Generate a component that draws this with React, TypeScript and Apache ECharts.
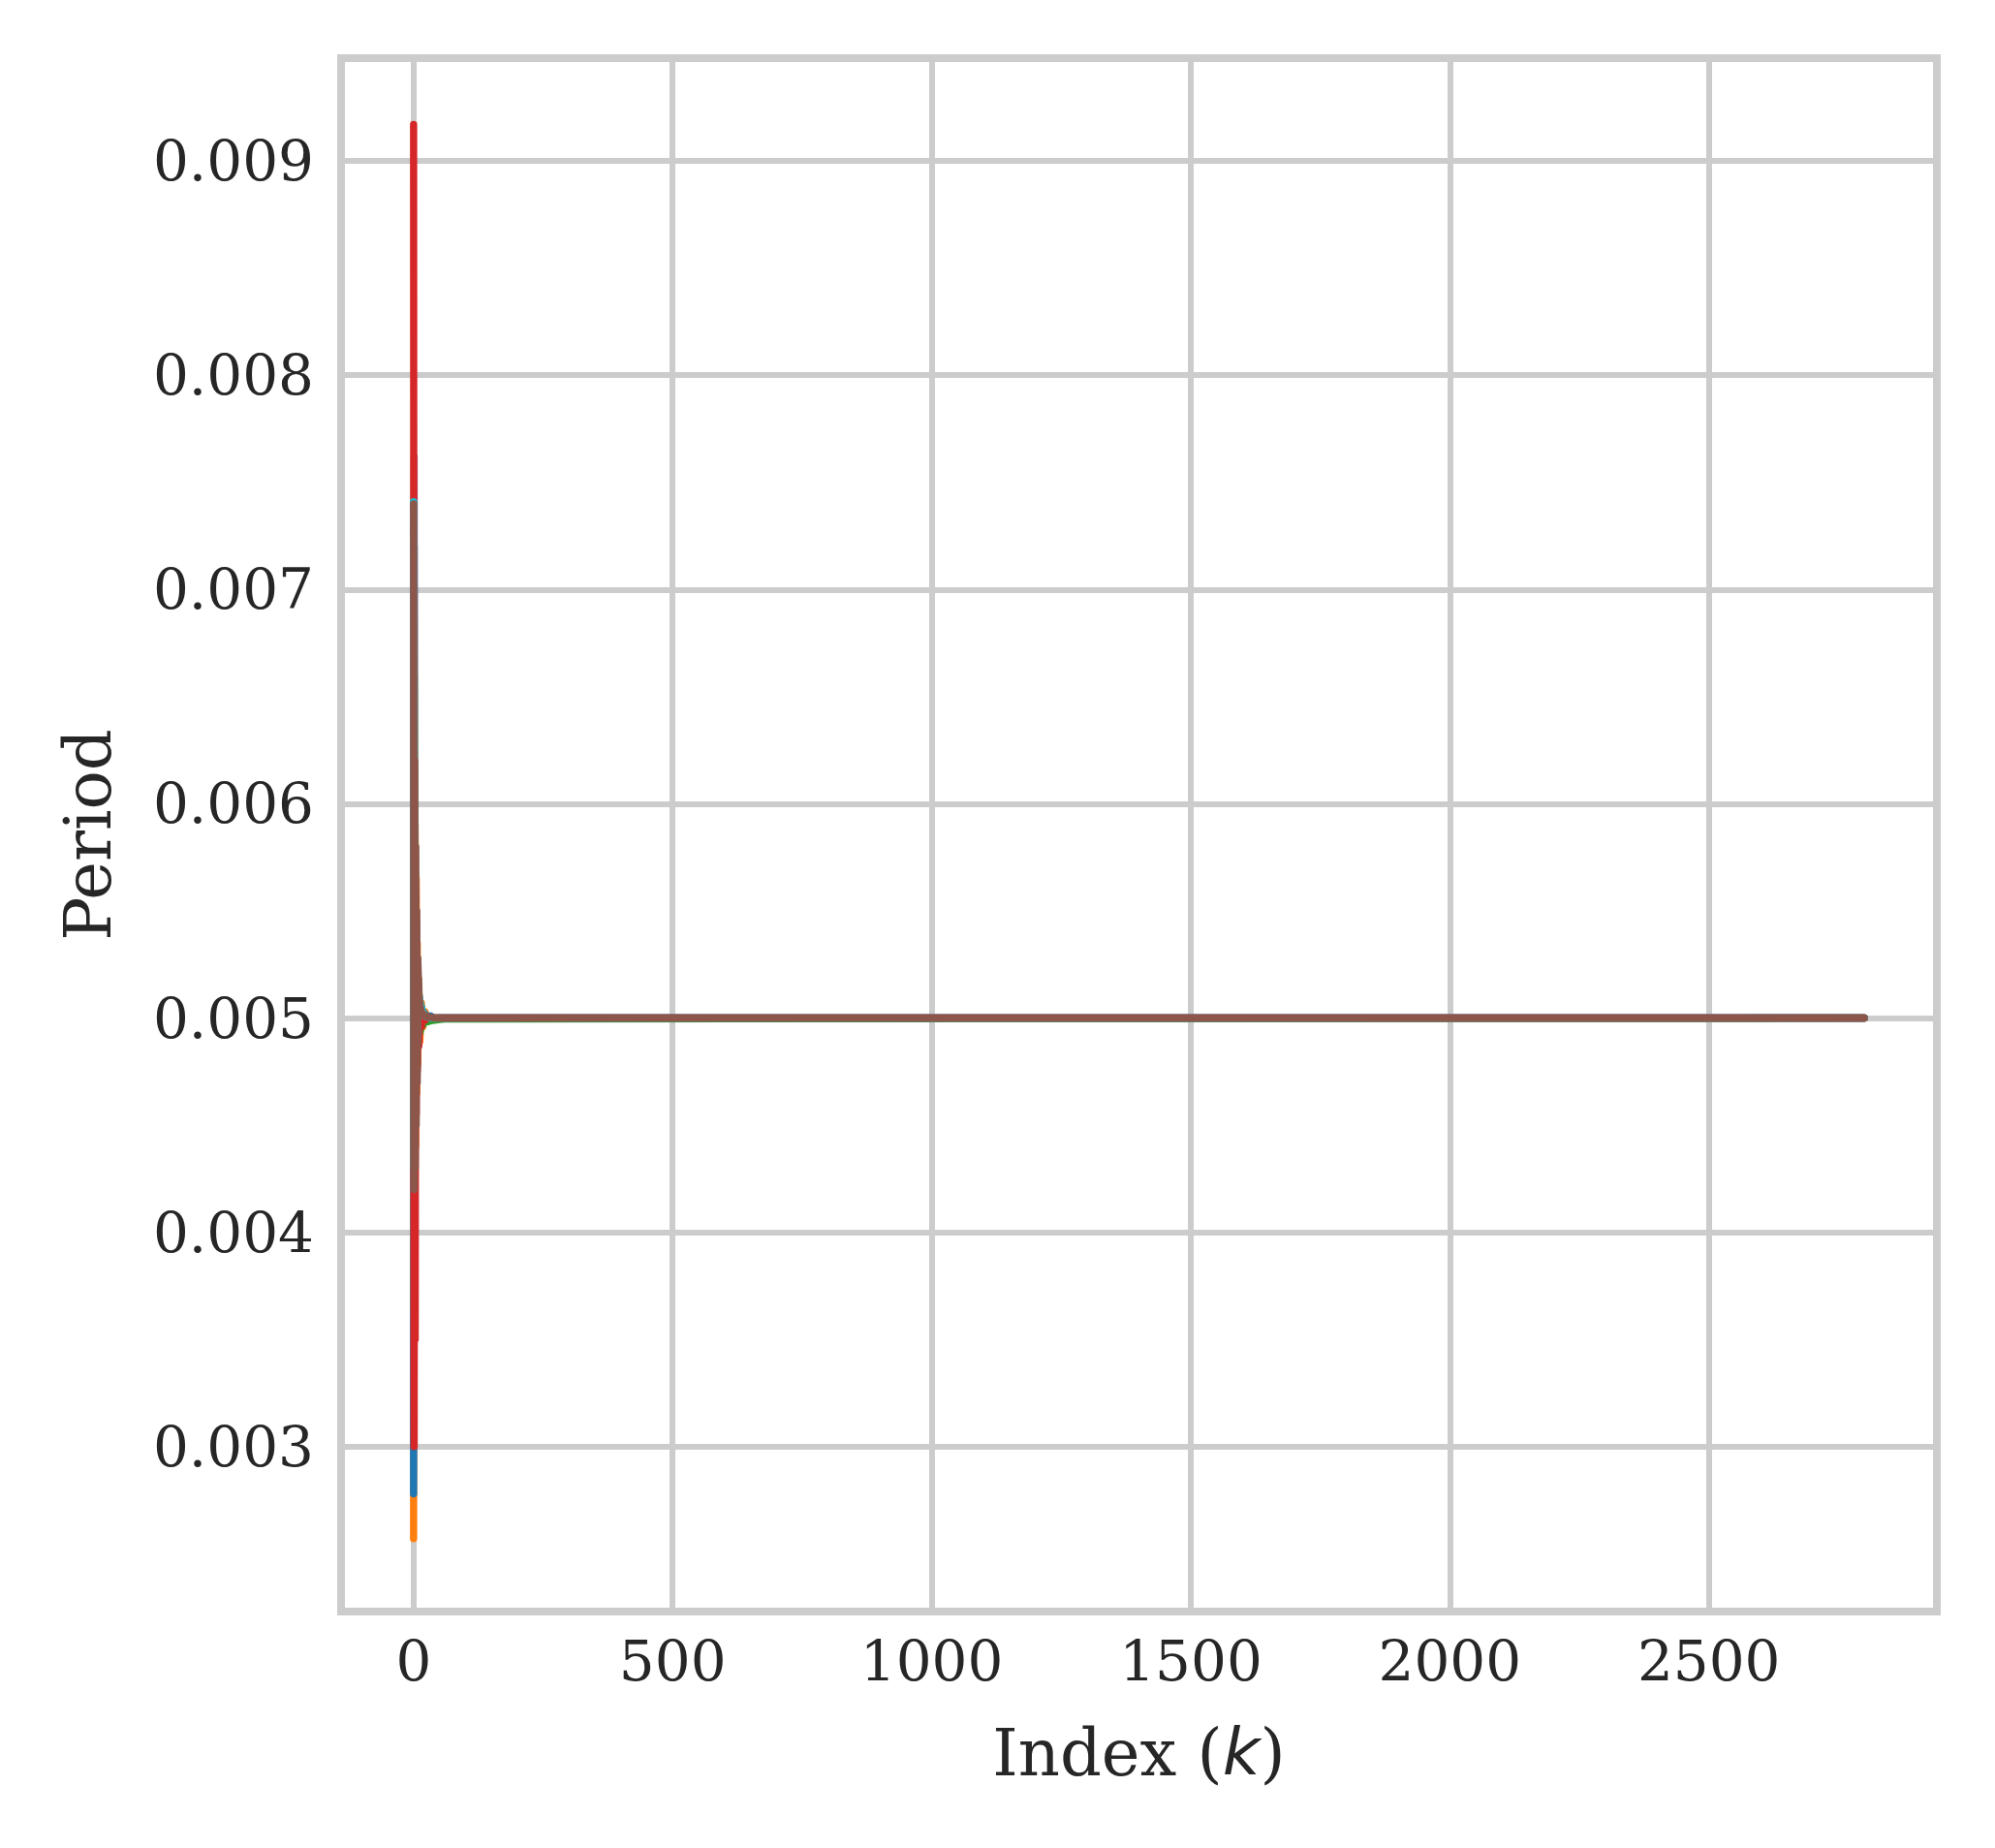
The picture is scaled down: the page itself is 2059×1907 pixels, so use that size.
import React, { useEffect, useRef } from "react";
import * as echarts from "echarts";

// Index positions (k) at which the series are sampled; the last one is the end of the run.
const K = [0, 1, 2, 3, 4, 5, 6, 7, 8, 10, 12, 15, 18, 22, 27, 33, 40, 50, 60, 2800];

const purpleVals = [0.0047, 0.00762, 0.0046, 0.0057, 0.0047, 0.0053, 0.00482, 0.00515, 0.00494, 0.00504, 0.00497, 0.00501, 0.004995, 0.005, 0.005, 0.005, 0.005, 0.005, 0.005, 0.005];
const pinkVals = [0.0052, 0.0044, 0.0057, 0.0046, 0.0053, 0.00475, 0.00518, 0.00488, 0.00508, 0.00496, 0.00503, 0.00499, 0.005, 0.005, 0.005, 0.005, 0.005, 0.005, 0.005, 0.005];
const orangeVals = [0.00257, 0.007, 0.0045, 0.0059, 0.0044, 0.00565, 0.00465, 0.00535, 0.00478, 0.00518, 0.00489, 0.00507, 0.00496, 0.00503, 0.00499, 0.005, 0.005, 0.005, 0.005, 0.005];
const blueVals = [0.00278, 0.0072, 0.0045, 0.0058, 0.00465, 0.00545, 0.00482, 0.00526, 0.00488, 0.00512, 0.00494, 0.00505, 0.00497, 0.00502, 0.004985, 0.00501, 0.004995, 0.005, 0.005, 0.005];
const greenVals = [0.0045, 0.0066, 0.0046, 0.0056, 0.0047, 0.0053, 0.00488, 0.00512, 0.00492, 0.00505, 0.00493, 0.00496, 0.00497, 0.00498, 0.004983, 0.004987, 0.00499, 0.004993, 0.004996, 0.005];
const redVals = [0.00917, 0.003, 0.0058, 0.0035, 0.0056, 0.00455, 0.00535, 0.00475, 0.00518, 0.00487, 0.00507, 0.00496, 0.00503, 0.00499, 0.005, 0.005, 0.005, 0.005, 0.005, 0.005];
const cyanVals = [0.00741, 0.0043, 0.0059, 0.0046, 0.0055, 0.00475, 0.00532, 0.00488, 0.00522, 0.00512, 0.00508, 0.00505, 0.00503, 0.00501, 0.005005, 0.005, 0.005, 0.005, 0.005, 0.005];
const brownVals = [0.0074, 0.0042, 0.0062, 0.0043, 0.0058, 0.0045, 0.0055, 0.0047, 0.00528, 0.00512, 0.00506, 0.00503, 0.00502, 0.005012, 0.005006, 0.005003, 0.005001, 0.005, 0.005, 0.005];

const SERIES: [string, number[]][] = [
  ["#9467bd", purpleVals],
  ["#e377c2", pinkVals],
  ["#ff7f0e", orangeVals],
  ["#1f77b4", blueVals],
  ["#2ca02c", greenVals],
  ["#d62728", redVals],
  ["#17becf", cyanVals],
  ["#8c564b", brownVals],
];

const X_MIN = -140;
const X_MAX = 2940;
const Y_MIN = 0.00223;
const Y_MAX = 0.00948;

const TEXT = "#262626";
const GRID = "#cccccc";

export default function App() {
  const ref = useRef<HTMLDivElement>(null);
  useEffect(() => {
    if (!ref.current) return;
    const chart = echarts.init(ref.current, null, { renderer: "svg" });
    chart.setOption({
      animation: false,
      backgroundColor: "#ffffff",
      grid: {
        left: 352,
        right: 60,
        top: 60,
        bottom: 244,
        show: true,
        borderColor: GRID,
        borderWidth: 8,
        backgroundColor: "#ffffff",
        containLabel: false,
      },
      xAxis: {
        type: "value",
        min: X_MIN,
        max: X_MAX,
        splitNumber: 5,
        axisLine: { show: false },
        axisTick: { show: false },
        splitLine: { show: true, lineStyle: { color: GRID, width: 6 } },
        axisLabel: {
          show: true,
          showMinLabel: false,
          showMaxLabel: false,
          margin: 22,
          fontFamily: "DejaVu Serif",
          fontSize: 58,
          color: TEXT,
          formatter: (v: number) => (Math.abs(v % 500) < 1e-6 ? String(v) : ""),
        },
        name: "Index ({k|k})",
        nameLocation: "middle",
        nameGap: 112,
        nameTextStyle: {
          fontFamily: "DejaVu Serif",
          fontSize: 67,
          color: TEXT,
          rich: {
            k: { fontFamily: "DejaVu Sans", fontStyle: "italic", fontSize: 67, color: TEXT },
          },
        },
      },
      yAxis: {
        type: "value",
        min: Y_MIN,
        max: Y_MAX,
        splitNumber: 6,
        axisLine: { show: false },
        axisTick: { show: false },
        splitLine: { show: true, lineStyle: { color: GRID, width: 6 } },
        axisLabel: {
          show: true,
          showMinLabel: false,
          showMaxLabel: false,
          margin: 28,
          fontFamily: "DejaVu Serif",
          fontSize: 58,
          color: TEXT,
          formatter: (v: number) => {
            const r = Math.round(v * 1000);
            return Math.abs(v * 1000 - r) < 1e-6 ? (r / 1000).toFixed(3) : "";
          },
        },
        name: "Period",
        nameLocation: "middle",
        nameGap: 228,
        nameRotate: 90,
        nameTextStyle: { fontFamily: "DejaVu Serif", fontSize: 67, color: TEXT },
      },
      series: SERIES.map(([color, vals]) => ({
        type: "line",
        data: K.map((k, i) => [k, vals[i]]),
        showSymbol: false,
        symbol: "none",
        lineStyle: { color, width: 7.5, cap: "round", join: "round" },
        itemStyle: { color },
        clip: true,
      })),
    });
    return () => chart.dispose();
  }, []);
  return (
    <div
      ref={ref}
      style={{ position: "absolute", left: 0, top: 0, width: 2059, height: 1907, background: "#fff" }}
    />
  );
}
